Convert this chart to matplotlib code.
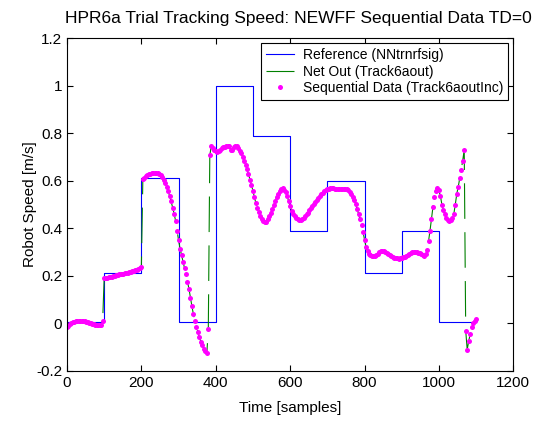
import numpy as np
import matplotlib
matplotlib.use('Agg')
import matplotlib.pyplot as plt
from matplotlib.ticker import FormatStrFormatter

plt.rcParams['font.family'] = ['Liberation Sans', 'DejaVu Sans']

# reference steps (edges in samples, level per block)
ref_edges = [0, 100, 200, 300, 400, 500, 600, 700, 800, 900, 1000, 1100]
ref_levels = [0.005, 0.213, 0.613, 0.005, 1.0, 0.789, 0.388, 0.6, 0.212, 0.388, 0.005]

# sequential data, one point every 4 samples (0..1100)
samples = np.arange(0, 1101, 4)
seq_0_96 = [-0.016, -0.01, -0.003, 0.002, 0.006, 0.008, 0.01, 0.011, 0.011, 0.011,
            0.011, 0.01, 0.009, 0.007, 0.005, 0.003, 0.001, -0.001, -0.003, -0.005,
            -0.006, -0.007, -0.007, -0.005, 0.01]
seq_100_200 = [0.19, 0.192, 0.193, 0.194, 0.196, 0.197, 0.199, 0.201, 0.203, 0.205,
               0.206, 0.207, 0.208, 0.209, 0.211, 0.213, 0.214, 0.216, 0.218, 0.22,
               0.222, 0.224, 0.226, 0.229, 0.233, 0.238]
seq_204_300 = [0.608, 0.613, 0.619, 0.623, 0.627, 0.63, 0.632, 0.634, 0.634, 0.633,
               0.631, 0.628, 0.622, 0.614, 0.603, 0.59, 0.575, 0.558, 0.535, 0.513,
               0.487, 0.462, 0.432, 0.39, 0.35]
seq_304_400 = [0.315, 0.287, 0.26, 0.233, 0.207, 0.175, 0.145, 0.108, 0.072, 0.038,
               0.01, -0.014, -0.036, -0.058, -0.077, -0.092, -0.106, -0.117, -0.126, -0.025,
               0.707, 0.745, 0.738, 0.73, 0.724]
seq_404_500 = [0.72, 0.724, 0.73, 0.737, 0.742, 0.743, 0.745, 0.748, 0.745, 0.73,
               0.728, 0.742, 0.748, 0.745, 0.738, 0.727, 0.715, 0.70, 0.685, 0.667,
               0.648, 0.628, 0.605, 0.583, 0.558]
seq_504_600 = [0.53, 0.505, 0.485, 0.468, 0.452, 0.44, 0.432, 0.428, 0.428, 0.437,
               0.45, 0.465, 0.48, 0.497, 0.515, 0.532, 0.546, 0.557, 0.565, 0.568,
               0.563, 0.552, 0.535, 0.514, 0.493]
seq_604_700 = [0.474, 0.46, 0.45, 0.442, 0.437, 0.435, 0.436, 0.439, 0.444, 0.45,
               0.458, 0.466, 0.475, 0.484, 0.493, 0.502, 0.511, 0.52, 0.528, 0.536,
               0.543, 0.55, 0.556, 0.56, 0.564]
seq_704_800 = [0.567, 0.569, 0.57, 0.569, 0.567, 0.565, 0.564, 0.564, 0.565, 0.566,
               0.567, 0.567, 0.566, 0.562, 0.553, 0.543, 0.532, 0.52, 0.503, 0.482,
               0.46, 0.437, 0.413, 0.385, 0.352]
seq_804_900 = [0.322, 0.303, 0.293, 0.288, 0.285, 0.284, 0.284, 0.287, 0.293, 0.299,
               0.303, 0.305, 0.305, 0.302, 0.298, 0.293, 0.288, 0.284, 0.28, 0.277,
               0.275, 0.273, 0.272, 0.273, 0.275]
seq_904_1000 = [0.278, 0.281, 0.284, 0.288, 0.292, 0.296, 0.299, 0.3, 0.301, 0.3,
                0.298, 0.295, 0.291, 0.287, 0.285, 0.29, 0.31, 0.345, 0.39, 0.44,
                0.49, 0.53, 0.556, 0.568, 0.56]
seq_1004_1100 = [0.535, 0.5, 0.478, 0.458, 0.442, 0.434, 0.432, 0.436, 0.443, 0.46,
                 0.5, 0.545, 0.575, 0.61, 0.647, 0.685, 0.73, -0.03, -0.11, -0.075,
                 -0.045, -0.015, 0.003, 0.012, 0.02]

speed = (seq_0_96 + seq_100_200 + seq_204_300 + seq_304_400 + seq_404_500 + seq_504_600
         + seq_604_700 + seq_704_800 + seq_804_900 + seq_904_1000 + seq_1004_1100)

fig = plt.figure(figsize=(5.4, 4.21), dpi=100)
ax = fig.add_axes([0.124, 0.1188, 0.8266, 0.7909])

ax.plot(ref_edges, ref_levels + [ref_levels[-1]], drawstyle='steps-post',
        color='#0000ff', lw=0.8, label='Reference (NNtrnrfsig)')
ax.plot(samples, speed, color='#008000', lw=0.8, dashes=(32, 12),
        label='Net Out (Track6aout)')
ax.plot(samples, speed, 'o', color='#ff00ff', markersize=3.6, markeredgewidth=0,
        label='Sequential Data (Track6aoutInc)')

ax.set_xlim(0, 1200)
ax.set_ylim(-0.2, 1.2)
ax.set_xticks(range(0, 1201, 200))
ax.set_yticks([-0.2, 0, 0.2, 0.4, 0.6, 0.8, 1.0, 1.2])
ax.yaxis.set_major_formatter(FormatStrFormatter('%g'))
ax.tick_params(direction='in', top=True, right=True, labelsize=11, length=4, width=0.8)
for s in ax.spines.values():
    s.set_linewidth(0.8)

ax.set_xlabel('Time [samples]', fontsize=11, labelpad=8)
ax.set_ylabel('Robot Speed [m/s]', fontsize=11, labelpad=-1)
ax.set_title('HPR6a Trial Tracking Speed: NEWFF Sequential Data TD=0', fontsize=12.5,
             pad=11, x=0.518)

leg = ax.legend(loc='upper right', fontsize=10, fancybox=False, framealpha=1,
                edgecolor='black', borderaxespad=0.35, handlelength=2.0,
                labelspacing=0.2, borderpad=0.35, handletextpad=0.7)
leg.get_frame().set_linewidth(0.8)

fig.savefig('out.png', dpi=100)
